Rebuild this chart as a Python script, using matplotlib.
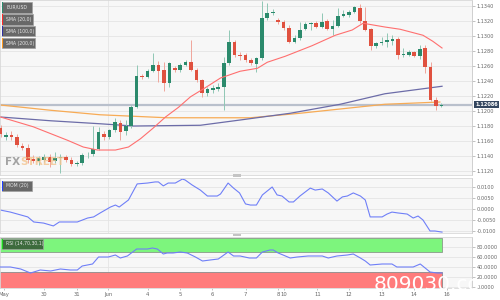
import matplotlib
matplotlib.use('Agg')
import matplotlib.pyplot as plt
from matplotlib.patches import Rectangle, FancyBboxPatch
from matplotlib import font_manager

# ---------------- data ----------------
opens = [1.1177, 1.1165, 1.1168, 1.1165, 1.1153, 1.1151, 1.1136, 1.1133, 1.1135, 1.1139,
         1.1133, 1.1137, 1.1139, 1.1135, 1.1129, 1.1131, 1.1141, 1.1143, 1.1149, 1.1169,
         1.1165, 1.1175, 1.1184, 1.1173, 1.1180, 1.1205, 1.1247, 1.1245, 1.1253, 1.1261,
         1.1255, 1.1237, 1.1257, 1.1255, 1.1261, 1.1265, 1.1255, 1.1241, 1.1224, 1.1228,
         1.1229, 1.1232, 1.1264, 1.1292, 1.1275, 1.1275, 1.1268, 1.1263, 1.1271, 1.1324,
         1.1331, 1.1321, 1.1319, 1.1311, 1.1292, 1.1297, 1.1309, 1.1316, 1.1317, 1.1312,
         1.1320, 1.1309, 1.1313, 1.1327, 1.1328, 1.1332, 1.1337, 1.1320, 1.1309, 1.1287,
         1.1291, 1.1292, 1.1293, 1.1296, 1.1275, 1.1275, 1.1279, 1.1273, 1.1284, 1.1259,
         1.1215, 1.1207]
highs = [1.1181, 1.1172, 1.1173, 1.1169, 1.1157, 1.1156, 1.1141, 1.1140, 1.1143, 1.1143,
         1.1145, 1.1143, 1.1141, 1.1139, 1.1133, 1.1144, 1.1145, 1.1180, 1.1179, 1.1173,
         1.1176, 1.1191, 1.1188, 1.1188, 1.1208, 1.1261, 1.1249, 1.1256, 1.1277, 1.1267,
         1.1265, 1.1265, 1.1260, 1.1264, 1.1268, 1.1295, 1.1257, 1.1243, 1.1232, 1.1235,
         1.1237, 1.1272, 1.1308, 1.1295, 1.1279, 1.1277, 1.1271, 1.1272, 1.1347, 1.1344,
         1.1336, 1.1324, 1.1321, 1.1315, 1.1301, 1.1319, 1.1319, 1.1319, 1.1320, 1.1331,
         1.1323, 1.1321, 1.1337, 1.1335, 1.1335, 1.1340, 1.1343, 1.1339, 1.1311, 1.1292,
         1.1299, 1.1304, 1.1301, 1.1299, 1.1284, 1.1281, 1.1280, 1.1288, 1.1288, 1.1265,
         1.1219, 1.1211]
lows = [1.1165, 1.1161, 1.1161, 1.1152, 1.1148, 1.1131, 1.1131, 1.1128, 1.1132, 1.1125,
        1.1131, 1.1117, 1.1132, 1.1127, 1.1127, 1.1128, 1.1137, 1.1140, 1.1148, 1.1161,
        1.1163, 1.1172, 1.1161, 1.1168, 1.1177, 1.1204, 1.1243, 1.1244, 1.1252, 1.1239,
        1.1227, 1.1232, 1.1252, 1.1252, 1.1260, 1.1253, 1.1239, 1.1219, 1.1220, 1.1224,
        1.1227, 1.1201, 1.1261, 1.1272, 1.1268, 1.1265, 1.1261, 1.1252, 1.1268, 1.1321,
        1.1328, 1.1316, 1.1308, 1.1291, 1.1291, 1.1295, 1.1308, 1.1308, 1.1311, 1.1311,
        1.1308, 1.1301, 1.1312, 1.1325, 1.1325, 1.1331, 1.1317, 1.1307, 1.1281, 1.1284,
        1.1288, 1.1285, 1.1288, 1.1269, 1.1272, 1.1273, 1.1272, 1.1269, 1.1251, 1.1213,
        1.1201, 1.1205]
closes = [1.1169, 1.1168, 1.1165, 1.1155, 1.1151, 1.1135, 1.1133, 1.1137, 1.1139, 1.1132,
          1.1137, 1.1139, 1.1135, 1.1129, 1.1131, 1.1141, 1.1142, 1.1149, 1.1172, 1.1165,
          1.1175, 1.1185, 1.1172, 1.1180, 1.1205, 1.1247, 1.1245, 1.1253, 1.1261, 1.1253,
          1.1237, 1.1264, 1.1255, 1.1261, 1.1265, 1.1255, 1.1241, 1.1224, 1.1229, 1.1231,
          1.1232, 1.1264, 1.1292, 1.1275, 1.1274, 1.1268, 1.1264, 1.1271, 1.1324, 1.1331,
          1.1332, 1.1319, 1.1311, 1.1292, 1.1297, 1.1308, 1.1316, 1.1317, 1.1312, 1.1319,
          1.1309, 1.1313, 1.1327, 1.1329, 1.1332, 1.1339, 1.1320, 1.1308, 1.1287, 1.1291,
          1.1292, 1.1295, 1.1296, 1.1275, 1.1276, 1.1279, 1.1273, 1.1283, 1.1259, 1.1215,
          1.1207, 1.12086]

sma20_x = [0, 6, 12.3, 15.2, 17.8, 21.1, 23.5, 25.7, 28, 30.3, 32.7, 34.9, 37.6, 40.4,
           44, 47.2, 49, 52.3, 57.2, 61.5, 64.6, 66.6, 70.6, 73.4, 77.6, 79.4, 81.1]
sma20_y = [1.1192, 1.1179, 1.1161, 1.1152, 1.1148, 1.1148, 1.1152, 1.1163, 1.1177, 1.1192,
           1.1205, 1.1219, 1.1231, 1.1244, 1.1253, 1.1257, 1.1265, 1.1273, 1.1287, 1.1301,
           1.1308, 1.1317, 1.1312, 1.1309, 1.1301, 1.1293, 1.1284]
sma100_x = [0, 9.2, 18.3, 24.4, 36.7, 44, 53.2, 62.4, 70.6, 81.1]
sma100_y = [1.1192, 1.1187, 1.1183, 1.1180, 1.1181, 1.1188, 1.1197, 1.1209, 1.1223, 1.1233]
sma200_x = [0, 9.2, 18.3, 30.6, 45.9, 55, 70.6, 80.7]
sma200_y = [1.1208, 1.1201, 1.1195, 1.1191, 1.1191, 1.1197, 1.1209, 1.1212]

mom_x = [0, 1.8, 5, 6.1, 7.9, 9.7, 10.8, 12.3, 14.1, 16, 17.1, 18.3, 20.2, 21.1, 21.8, 23.5,
         25.1, 27, 28.4, 29, 29.9, 30.8, 32.1, 33.4, 33.9, 35.2, 36.7, 38, 39.8, 40.4, 41.8,
         42.8, 43.9, 45, 45.9, 47, 48.1, 49.9, 50.8, 51.7, 53, 53.8, 55, 56.9, 57.8, 59.1,
         60.2, 61.8, 62.8, 63.7, 64.8, 66.1, 67, 67.9, 68.8, 70.1, 71, 71.9, 73, 74.7, 75.8,
         76.7, 77.6, 78.9, 79.8, 81.1]
mom_y = [-0.0005, -0.0014, -0.0036, -0.0059, -0.0064, -0.0077, -0.0059, -0.0059, -0.0059,
         -0.0041, -0.0036, -0.0018, 0.0009, 0.0018, 0.0009, 0.0041, 0.0114, 0.0118, 0.0123,
         0.0123, 0.0105, 0.0118, 0.0118, 0.0136, 0.0132, 0.0109, 0.0086, 0.0059, 0.0059,
         0.0068, 0.0118, 0.0095, 0.0073, 0.0023, 0.0018, 0.0018, 0.0064, 0.0100, 0.0064,
         0.0059, 0.0032, 0.0032, 0.0059, 0.0095, 0.0086, 0.0091, 0.0073, 0.0036, 0.0055,
         0.0059, 0.0073, 0.0059, 0.0041, -0.0036, -0.0036, -0.0036, -0.0023, -0.0014,
         -0.0018, -0.0023, -0.0041, -0.0032, -0.0050, -0.0100, -0.0100, -0.0105]

rsi_x = [0, 1.8, 3.7, 5.5, 6.1, 7.3, 9.2, 11, 12.8, 14.1, 15, 16.9, 18, 19.8, 21.1, 22,
         23.3, 25, 27, 27.9, 28.8, 29.9, 30.6, 31.7, 33, 34.3, 35.8, 37.1, 38.5, 40, 41.8,
         42.8, 44, 45.7, 47, 48.1, 49.5, 50.1, 51, 51.9, 53.2, 54.5, 56.5, 58.2, 59.1, 60.2,
         61.8, 63.7, 64.8, 66.1, 67, 67.9, 70.1, 71.9, 72.8, 74.7, 75.8, 77.1, 78, 78.9,
         80.2, 81.1]
rsi_y = [40, 40, 36, 28, 30, 34, 32, 36, 34, 34, 42, 46, 60, 60, 64, 58, 62, 76, 76, 78,
         76, 66, 68, 68, 70, 68, 60, 52, 54, 56, 70, 62, 62, 58, 58, 70, 74, 74, 68, 64,
         58, 60, 62, 62, 62, 58, 62, 64, 66, 58, 52, 44, 46, 46, 40, 40, 40, 46, 38, 30,
         28, 28]

date_pos = [0.7, 7.9, 14.1, 19.8, 27, 33, 38.9, 45, 51, 52.1, 58.2, 64, 70, 76, 82]
date_labels = ['May', '30', '31', 'Jun', '4', '5', '6', '7', '8', '10', '11', '12', '13', '14', '16']

price_ticks = [1.1120, 1.1140, 1.1160, 1.1180, 1.1200, 1.1220, 1.1240, 1.1260, 1.1280,
               1.1300, 1.1320, 1.1340]
mom_ticks = [-0.0100, -0.0050, 0.0000, 0.0050, 0.0100]
rsi_ticks = [0, 20, 40, 60, 80]
last_price = 1.12086
legend_main = ['EUR/USD', 'SMA (20,0)', 'SMA (100,0)', 'SMA (200,0)']

# ---------------- style ----------------
W, H = 500, 300
BG = '#f7f7f7'
GRID = '#e4e4e4'
GREEN = '#2b8a6c'
RED = '#e0513f'
TXT = '#666666'

fig = plt.figure(figsize=(5, 3), dpi=100)
fig.patch.set_facecolor('white')

def frac_box(x0, y0, x1, y1):
    return [x0 / W, 1 - y1 / H, (x1 - x0) / W, (y1 - y0) / H]

XR = 472
ax1 = fig.add_axes(frac_box(0, 0, XR, 175))
ax2 = fig.add_axes(frac_box(0, 178, XR, 233))
ax3 = fig.add_axes(frac_box(0, 237, XR, 288))
XLIM = (-0.1, XR / 5.45)

for ax in (ax1, ax2, ax3):
    ax.set_facecolor(BG)
    ax.set_xlim(*XLIM)
    ax.yaxis.tick_right()
    ax.tick_params(axis='y', length=2, width=0.5, color='#aaaaaa', labelsize=3.6,
                   labelcolor=TXT, pad=1.5)
    ax.tick_params(axis='x', length=0, labelbottom=False)
    for s in ax.spines.values():
        s.set_color('#d8d8d8')
        s.set_linewidth(0.6)
    ax.spines['right'].set_color('#c8c8c8')
    ax.grid(axis='y', color=GRID, lw=0.6)
    ax.axvline(19.8, color=GRID, lw=0.6, zorder=0)
    ax.set_axisbelow(True)

# ---------------- main panel ----------------
ax1.set_ylim(1.11147, 1.1348)
ax1.set_yticks(price_ticks)
ax1.set_yticklabels([f'{t:.4f}' for t in price_ticks])

ax1.plot(sma200_x, sma200_y, color='#f7ab55', lw=0.9, zorder=2)
ax1.plot(sma100_x, sma100_y, color='#6c6ca8', lw=0.9, zorder=2)
ax1.axhline(last_price, color='#b9c0cc', lw=1.6, zorder=1.5)

for i, (o, h, l, c) in enumerate(zip(opens, highs, lows, closes)):
    up = c >= o
    col = GREEN if up else RED
    wcol = '#8fc7b4' if up else '#f0a59b'
    ax1.plot([i, i], [l, h], color=wcol, lw=0.7, zorder=3, solid_capstyle='butt')
    bot, top = min(o, c), max(o, c)
    hgt = max(top - bot, 0.00008)
    ax1.add_patch(Rectangle((i - 0.33, bot), 0.66, hgt, facecolor=col, edgecolor='none', zorder=4))

ax1.plot(sma20_x, sma20_y, color='#ff6f6f', lw=0.8, zorder=5)

# price label box
fig.text(475 / W, 1 - 104.5 / H, f'{last_price:.5f}', fontsize=3.6, color='white',
         va='center', ha='left', fontweight='bold',
         bbox=dict(boxstyle='square,pad=0.25', fc='#34465f', ec='none'))

# ---------------- MOM panel ----------------
ax2.set_ylim(-0.01091, 0.01409)
ax2.set_yticks(mom_ticks)
ax2.set_yticklabels([f'{t:.4f}' for t in mom_ticks])
ax2.plot(mom_x, mom_y, color='#6f7ff7', lw=0.8)

# ---------------- RSI panel ----------------
ax3.set_ylim(-2, 100)
ax3.set_yticks(rsi_ticks)
ax3.set_yticklabels([f'{t:.4f}' for t in rsi_ticks])
ax3.add_patch(Rectangle((-0.5, 70), 81.6, 28, facecolor='#7df57d', edgecolor='#8a9a8a', lw=0.6, zorder=1))
ax3.add_patch(Rectangle((-0.5, -2), 81.6, 32, facecolor='#ff7c7c', edgecolor='#8a8a8a', lw=0.6, zorder=1))
ax3.plot(rsi_x, rsi_y, color='#6f7ff7', lw=0.8, zorder=3)
ax3.set_xticks(date_pos)
ax3.set_xticklabels(date_labels)
ax3.tick_params(axis='x', length=1.5, width=0.5, color='#aaaaaa', labelbottom=True,
                labelsize=3.8, labelcolor=TXT, pad=1.5)

# ---------------- legend boxes ----------------
def legend_box(x0, y0, x1, y1, label, edge, fill='#686868', tcol='#e8e8e8'):
    fig.patches.append(Rectangle((x0 / W, 1 - y1 / H), (x1 - x0) / W, (y1 - y0) / H,
                                 transform=fig.transFigure, facecolor=fill,
                                 edgecolor='#a0a0a0', lw=0.5, zorder=10))
    fig.patches.append(Rectangle((x0 / W, 1 - y1 / H), 1.5 / W, (y1 - y0) / H,
                                 transform=fig.transFigure, facecolor=edge,
                                 edgecolor='none', zorder=11))
    fig.text((x0 + 5) / W, 1 - (y0 + y1) / 2 / H, label, fontsize=3.3, color=tcol,
             va='center', ha='left', zorder=12)

edges = ['#2b8a6c', '#ff2a2a', '#3030a0', '#ff9a20']
rows = [(2, 12.5, 31.5), (14, 24.5, 33), (26, 36, 35), (38, 48, 35)]
for (y0, y1, x1), lab, ec in zip(rows, legend_main, edges):
    legend_box(1.5, y0, x1, y1, lab, ec)
legend_box(1.5, 180.5, 31.5, 190.5, 'MOM (20)', '#2040ff')
legend_box(1.5, 239, 43, 249, 'RSI (14,70,30,1)', '#20d020', fill='#3d6b3d')

# panel handles
for yy in (174.2, 233.6):
    fig.patches.append(FancyBboxPatch((233 / W, 1 - (yy + 2.4) / H), 8 / W, 2.4 / H,
                                      boxstyle='square,pad=0', transform=fig.transFigure,
                                      facecolor='#c4c4c4', edgecolor='none', zorder=10))

# ---------------- watermarks ----------------
avail = {f.name for f in font_manager.fontManager.ttflist}
narrow = 'Liberation Sans Narrow' if 'Liberation Sans Narrow' in avail else 'DejaVu Sans'
fx = ax1.text(5 / XR, 10 / 175, 'FX', transform=ax1.transAxes, fontsize=7.5,
              color='#9a9a9a', fontweight='bold', family=narrow, alpha=0.9, zorder=6)
ax1.annotate('STREET', xy=(1, 0), xycoords=fx, va='bottom', ha='left', fontsize=7.5,
             color='#f4c48e', fontweight='bold', family=narrow, alpha=0.8, zorder=6,
             annotation_clip=False)
fig.text(374 / W, 1 - 289.5 / H, '809030.co', fontsize=14.5, color='white', family=narrow,
         zorder=20)

fig.savefig('out.png', dpi=100, facecolor='white')
